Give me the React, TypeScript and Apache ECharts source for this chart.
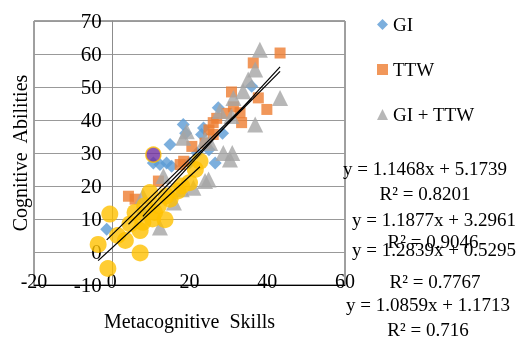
import React, { useEffect, useRef } from "react";
import * as echarts from "echarts";

// ---- data ----
const giPoints: number[][] = [
  [-1.3, 6.9], [8, 12], [10.7, 27], [12.4, 26.5], [14.1, 27], [15, 32.6], [15.4, 26],
  [18.4, 38.6], [19, 36], [20, 27], [22, 30], [23.1, 35.6], [23.6, 37.6], [25, 31],
  [26.6, 27], [27.4, 43.7], [28.5, 36], [36, 50.2],
];
const ttwPoints: number[][] = [
  [4.3, 16.9], [6, 16], [12, 21.5], [17.6, 26.5], [18.5, 27.5], [20.6, 32], [24, 33],
  [25, 37], [26.1, 35.6], [26.1, 39.2], [27, 40.5], [29.5, 42], [30.8, 48.5], [31.3, 44],
  [33, 42.2], [33.4, 39.2], [36.4, 57.3], [37.7, 46.7], [39.9, 43.2], [43.3, 60.3],
];
const giTtwPoints: number[][] = [
  [8, 17], [12.4, 7.4], [13.3, 23], [16, 15], [18, 19], [18.4, 34.6], [19.3, 36.6],
  [21, 19.5], [24, 21.5], [24, 34], [24.9, 22], [25.3, 33], [27.8, 42.7], [28.7, 30],
  [30.4, 28], [30.8, 41.2], [31, 30], [31.3, 46.7], [33.8, 48.7], [35.1, 52.3],
  [36.9, 38.6], [36.9, 55.3], [38.1, 61.3], [43.3, 46.7],
];
const otherPoints: number[][] = [
  [-3.5, 2.3], [-1, -5], [-0.5, 11.5], [1.5, 5], [3.5, 3.5], [4.7, 8.5], [6, 12],
  [7.3, -0.3], [7.3, 6.5], [8, 9], [8.5, 14], [9.8, 18], [10.5, 10], [11, 12], [12, 14],
  [13.7, 9.8], [14, 17], [15, 16], [17, 18.5], [18, 20], [20, 21], [21.5, 25], [22.7, 27.5],
];
const outlierPoints: number[][] = [[10.7, 29.5]];

const seriesNames = ["GI", "TTW", "GI + TTW", "Other"];
const slopes = [1.1468, 1.1877, 1.2839, 1.0859];
const intercepts = [5.1739, 3.2961, 0.5295, 1.1713];
const rSquared = ["0.8201", "0.9046", "0.7767", "0.716"];

const xMin = -20, xMax = 60, xStep = 20;
const yMin = -10, yMax = 70, yStep = 10;

// ---- layout/style ----
const FONT = "'Liberation Serif', 'Times New Roman', serif";
const GRID_LEFT = 34, GRID_RIGHT_EDGE = 345;
const eqLayout = [
  { x: 425, y: 168, rx: 425, ry: 193 },
  { x: 434, y: 219, rx: 433, ry: 241 },
  { x: 434, y: 249, rx: 435, ry: 281 },
  { x: 428, y: 304, rx: 428, ry: 329 },
];

export default function App() {
  const ref = useRef<HTMLDivElement>(null);
  useEffect(() => {
    if (!ref.current) return;
    const chart = echarts.init(ref.current, null, { renderer: "svg" });
    const groups = [giPoints, ttwPoints, giTtwPoints, otherPoints];
    const trend = groups.map((pts, i) => {
      const xs = pts.map((p) => p[0]);
      const a = Math.min(...xs), b = Math.max(...xs);
      return [
        [a, slopes[i] * a + intercepts[i]],
        [b, slopes[i] * b + intercepts[i]],
      ];
    });
    // y axis sits at x = 0 of the value axis
    const zeroOffset = ((0 - xMin) / (xMax - xMin)) * (GRID_RIGHT_EDGE - GRID_LEFT);
    const fmt = (v: number) => v.toFixed(4).replace(/0+$/, "");
    const eqTexts: any[] = [];
    slopes.forEach((s, i) => {
      const L = eqLayout[i];
      eqTexts.push({
        type: "text", x: L.x, y: L.y,
        style: { text: `y = ${fmt(s)}x + ${fmt(intercepts[i])}`, font: `19px ${FONT}`, fill: "#000", textAlign: "center", textVerticalAlign: "middle" },
      });
      eqTexts.push({
        type: "text", x: L.rx, y: L.ry,
        style: { text: `R² = ${rSquared[i]}`, font: `19px ${FONT}`, fill: "#000", textAlign: "center", textVerticalAlign: "middle" },
      });
    });
    chart.setOption({
      animation: false,
      grid: {
        left: GRID_LEFT, right: 520 - GRID_RIGHT_EDGE, top: 21, bottom: 53,
        containLabel: false, outerBoundsMode: "none",
        show: true, borderColor: "#404040", borderWidth: 1,
      },
      legend: {
        data: seriesNames.slice(0, 3),
        orient: "vertical", left: 372, top: 10,
        itemWidth: 11, itemHeight: 11, itemGap: 26,
        textStyle: { fontFamily: FONT, fontSize: 19, color: "#000" },
      },
      xAxis: {
        type: "value", min: xMin, max: xMax, interval: xStep,
        name: "Metacognitive  Skills", nameLocation: "middle", nameGap: 26,
        nameTextStyle: { fontFamily: FONT, fontSize: 20, color: "#000" },
        axisLine: { onZero: false, lineStyle: { color: "#000" } },
        axisTick: { show: false },
        splitLine: { show: false },
        axisLabel: { fontFamily: FONT, fontSize: 20, color: "#000", margin: -14 },
      },
      yAxis: {
        type: "value", min: yMin, max: yMax, interval: yStep,
        offset: -zeroOffset,
        name: "Cognitive  Abilities", nameLocation: "middle", nameGap: 82,
        nameTextStyle: { fontFamily: FONT, fontSize: 20, color: "#000" },
        axisLine: { onZero: false, lineStyle: { color: "#8c8c8c" } },
        axisTick: { show: false },
        splitLine: { lineStyle: { color: "#999999" } },
        axisLabel: { fontFamily: FONT, fontSize: 21, color: "#000", margin: 10 },
      },
      series: [
        { name: "GI", type: "scatter", symbol: "diamond", symbolSize: 13, itemStyle: { color: "#5B9BD5" }, data: giPoints },
        { name: "TTW", type: "scatter", symbol: "rect", symbolSize: 11, itemStyle: { color: "#ED7D31" }, data: ttwPoints },
        { name: "GI + TTW", type: "scatter", symbol: "triangle", symbolSize: 16, itemStyle: { color: "#A5A5A5" }, data: giTtwPoints },
        { name: "Other", type: "scatter", symbol: "circle", symbolSize: 17, itemStyle: { color: "#FFC000" }, data: otherPoints },
        { name: "Outlier", type: "scatter", symbol: "circle", symbolSize: 15, itemStyle: { color: "#7030A0", borderColor: "#FFC000", borderWidth: 1.5 }, data: outlierPoints },
        ...trend.map((d, i) => ({
          name: `trend${i}`, type: "line", data: d, symbol: "none", z: 5,
          lineStyle: { color: "#000", width: 1.2 },
        })),
      ],
      graphic: eqTexts,
    });
    return () => chart.dispose();
  }, []);
  return <div ref={ref} style={{ position: "fixed", left: 0, top: 0, width: 520, height: 338 }} />;
}
